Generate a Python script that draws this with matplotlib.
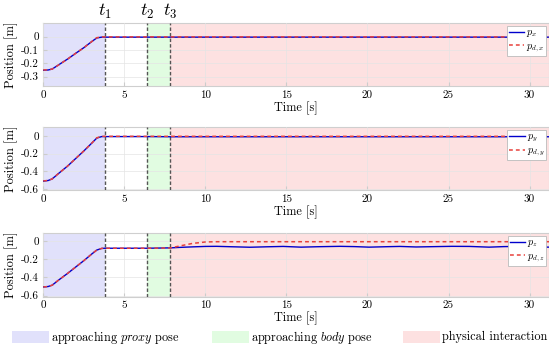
import numpy as np
import matplotlib
matplotlib.use("Agg")
import matplotlib.pyplot as plt
from matplotlib.patches import Rectangle

plt.rcParams['font.family'] = 'serif'
plt.rcParams['font.serif'] = ['cmr10', 'DejaVu Serif']
plt.rcParams['mathtext.fontset'] = 'cm'
plt.rcParams['axes.unicode_minus'] = False

# phase boundaries [s]
t_events = [3.82, 6.4, 7.83]
event_labels = [r'$t_1$', r'$t_2$', r'$t_3$']

# time samples [s]
time = [0.0, 0.3, 0.55, 0.9, 1.5, 2.0, 2.5, 3.0, 3.3, 3.6, 3.82, 5.0, 6.4, 7.83,
        8.5, 9.2, 10.0, 10.7, 11.7, 12.75, 13.8, 14.8, 15.9, 17.0, 18.3, 19.2,
        20.1, 21.2, 22.0, 23.0, 24.2, 25.2, 26.3, 27.5, 28.4, 29.3, 30.2, 31.2]

# x component
px  = [-0.252, -0.250, -0.243, -0.215, -0.168, -0.125, -0.083, -0.036, -0.010, -0.004, -0.004,
       -0.004, -0.004, -0.004, -0.004, -0.004, -0.004, -0.004, -0.004, -0.004, -0.004, -0.004,
       -0.004, -0.004, -0.004, -0.004, -0.004, -0.004, -0.004, -0.004, -0.004, -0.004, -0.004,
       -0.004, -0.004, -0.004, -0.004, -0.004]
pdx = [-0.250, -0.249, -0.243, -0.216, -0.168, -0.125, -0.083, -0.036, -0.008, -0.002, -0.002,
       -0.002, -0.002, -0.002, -0.002, -0.002, -0.002, -0.002, -0.002, -0.002, -0.002, -0.002,
       -0.002, -0.002, -0.002, -0.002, -0.002, -0.002, -0.002, -0.002, -0.002, -0.002, -0.002,
       -0.002, -0.002, -0.002, -0.002, -0.002]

# y component
py  = [-0.510, -0.503, -0.485, -0.430, -0.340, -0.255, -0.170, -0.080, -0.025, -0.008, -0.008,
       -0.008, -0.008, -0.010, -0.010, -0.010, -0.010, -0.010, -0.010, -0.010, -0.010, -0.010,
       -0.010, -0.010, -0.010, -0.010, -0.010, -0.010, -0.010, -0.010, -0.010, -0.010, -0.010,
       -0.010, -0.010, -0.010, -0.010, -0.010]
pdy = [-0.508, -0.502, -0.485, -0.430, -0.340, -0.255, -0.170, -0.080, -0.022, -0.005, -0.005,
       -0.005, -0.005, -0.005, -0.005, -0.005, -0.005, -0.005, -0.005, -0.005, -0.005, -0.005,
       -0.005, -0.005, -0.005, -0.005, -0.005, -0.005, -0.005, -0.005, -0.005, -0.005, -0.005,
       -0.005, -0.005, -0.005, -0.005, -0.005]

# z component
pz  = [-0.505, -0.500, -0.485, -0.435, -0.355, -0.285, -0.215, -0.140, -0.098, -0.080, -0.078,
       -0.078, -0.078, -0.074, -0.068, -0.063, -0.058, -0.057, -0.062, -0.067, -0.062, -0.058,
       -0.066, -0.061, -0.057, -0.060, -0.066, -0.061, -0.058, -0.064, -0.060, -0.057, -0.058,
       -0.066, -0.060, -0.058, -0.062, -0.066]
pdz = [-0.505, -0.500, -0.485, -0.435, -0.355, -0.285, -0.215, -0.140, -0.098, -0.080, -0.078,
       -0.078, -0.078, -0.075, -0.050, -0.025, -0.009, -0.006, -0.006, -0.006, -0.006, -0.006,
       -0.006, -0.006, -0.006, -0.006, -0.006, -0.006, -0.006, -0.006, -0.006, -0.006, -0.006,
       -0.006, -0.006, -0.006, -0.006, -0.006]

series = [(px, pdx, r'$p_x$', r'$p_{d,x}$'),
          (py, pdy, r'$p_y$', r'$p_{d,y}$'),
          (pz, pdz, r'$p_z$', r'$p_{d,z}$')]
ylims = [(-0.37, 0.102), (-0.61, 0.10), (-0.61, 0.09)]
yticks = [[0, -0.1, -0.2, -0.3], [0, -0.2, -0.4, -0.6], [0, -0.2, -0.4, -0.6]]
ytick_labels = [['0', '-0.1', '-0.2', '-0.3'], ['0', '-0.2', '-0.4', '-0.6'], ['0', '-0.2', '-0.4', '-0.6']]
xticks = [0, 5, 10, 15, 20, 25, 30]
phase_names = [r'approaching $\mathit{proxy}$ pose', r'approaching $\mathit{body}$ pose', 'physical interaction']
phase_colors = ['#e1e1fb', '#e1fce1', '#fde1e1']

W, H = 549, 352
fig = plt.figure(figsize=(W / 100, H / 100), dpi=100)
boxes = [(23, 86), (127, 190), (233, 296.5)]
left, right = 43.3, 549
t_end = 31.2
axes = []
for (top, bot), (a, d, la, ld), yl, yt, ytl in zip(boxes, series, ylims, yticks, ytick_labels):
    ax = fig.add_axes([left / W, 1 - bot / H, (right - left) / W, (bot - top) / H])
    axes.append(ax)
    ax.axvspan(0, t_events[0], color=phase_colors[0], lw=0, zorder=0)
    ax.axvspan(t_events[1], t_events[2], color=phase_colors[1], lw=0, zorder=0)
    ax.axvspan(t_events[2], t_end, color=phase_colors[2], lw=0, zorder=0)
    for te in t_events:
        ax.axvline(te, color='#555555', ls=(0, (2.5, 1.5)), lw=1.0, zorder=3)
    ax.plot(time, a, color='#0000cc', lw=1.0, zorder=4, label=la)
    ax.plot(time, d, color='#e8413c', lw=1.1, ls=(0, (2.5, 2)), zorder=5, label=ld)
    ax.set_xlim(0, t_end)
    ax.set_ylim(*yl)
    ax.set_xticks(xticks)
    ax.set_xticklabels([str(v) for v in xticks], fontsize=8)
    ax.set_yticks(yt)
    ax.set_yticklabels(ytl, fontsize=8)
    ax.grid(True, color='#e4e4e4', lw=0.5)
    ax.set_axisbelow(False)
    ax.tick_params(direction='in', length=3, color='#cccccc', pad=3)
    for s in ax.spines.values():
        s.set_color('#cfcfcf')
        s.set_linewidth(0.8)
    ax.set_xlabel('Time [s]', fontsize=8.8, labelpad=1)
    ax.set_ylabel('Position [m]', fontsize=9, labelpad=2)
    leg = ax.legend(loc='upper right', fontsize=7.3, handlelength=1.5, handletextpad=0.2,
                    borderpad=0.2, labelspacing=0.2, borderaxespad=0.25, fancybox=False,
                    framealpha=1, edgecolor='#bbbbbb')
    leg.get_frame().set_linewidth(0.6)

for te, lab in zip(t_events, event_labels):
    axes[0].text(te, 1.03, lab, transform=axes[0].get_xaxis_transform(), ha='center',
                 va='bottom', fontsize=13)

# phase legend at the bottom (patch + label)
patch_left_px = [12, 212, 403]
patch_w, patch_h, yc = 37, 12, 337
for xl, c, name in zip(patch_left_px, phase_colors, phase_names):
    fig.add_artist(Rectangle((xl / W, 1 - (yc + patch_h / 2) / H), patch_w / W, patch_h / H,
                             transform=fig.transFigure, facecolor=c, edgecolor='none'))
    fig.text((xl + patch_w + 2) / W, 1 - yc / H, name, ha='left', va='center', fontsize=8.8)

fig.savefig('out.png', dpi=100)
